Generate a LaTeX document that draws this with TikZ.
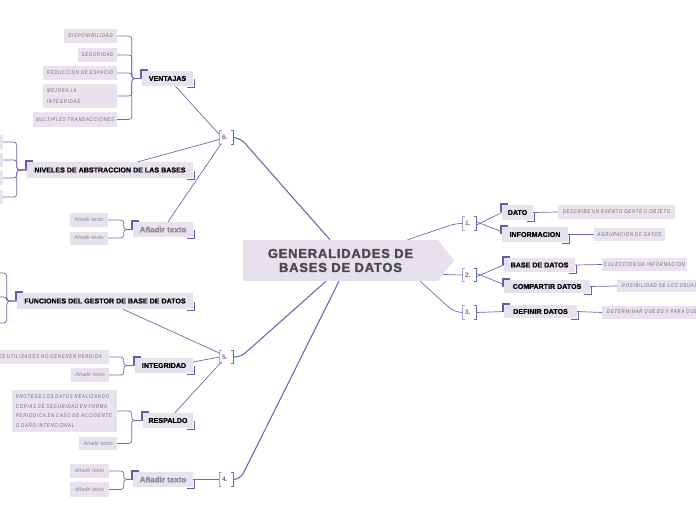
\documentclass[tikz,border=0pt]{standalone}
\usepackage{fontspec}
\setmainfont{Liberation Sans}
\newfontfamily\leaffont{Liberation Sans}[LetterSpace=14, FakeStretch=0.78]
\newfontfamily\hubfont{Liberation Sans}[LetterSpace=6, BoldFeatures={FakeBold=2}]
\newfontfamily\topicfont{Liberation Sans}[BoldFeatures={FakeBold=0.8}]
\usetikzlibrary{backgrounds}
\definecolor{boxfill}{HTML}{E8E2EE}
\definecolor{hubfill}{HTML}{E6E0EC}
\definecolor{linecol}{HTML}{6B6BAE}
\definecolor{lightline}{HTML}{A3A3D0}
\definecolor{cornercol}{HTML}{5F5FA6}
\definecolor{numcol}{HTML}{9A4F9A}
\definecolor{leaftext}{HTML}{6A6A6A}
\definecolor{addtext}{HTML}{8A8A8A}
\definecolor{hubtext}{HTML}{4A4A4A}
\newcommand\tcorners[1]{%
  \draw[corner] ([shift={(-1pt,-7pt)}]#1.north west) -- ([shift={(-1pt,1pt)}]#1.north west) -- ([shift={(6pt,1pt)}]#1.north west);
  \draw[corner] ([shift={(1pt,7pt)}]#1.south east) -- ([shift={(1pt,-1pt)}]#1.south east) -- ([shift={(-6pt,-1pt)}]#1.south east);}
\newcommand\nbrackets[1]{%
  \draw[draw=lightline, line width=0.9pt] ([xshift=2.5pt]#1.north west) -- (#1.north west) -- (#1.south west) -- ([xshift=2.5pt]#1.south west);
  \draw[draw=linecol, line width=0.9pt] ([xshift=-2.5pt]#1.north east) -- (#1.north east) -- (#1.south east) -- ([xshift=-2.5pt]#1.south east);}
\begin{document}
\begin{tikzpicture}[x=1pt,y=-1pt,
  hub/.style={fill=hubfill, minimum width=195, minimum height=41, inner sep=0pt, align=center,
    font=\hubfont\bfseries\fontsize{13}{14}\selectfont, text=hubtext},
  leaf/.style={fill=boxfill, inner sep=0pt, font=\leaffont\itshape\fontsize{5.5}{6.5}\selectfont, text=leaftext},
  addleaf/.style={fill=boxfill, inner sep=0pt, font=\itshape\fontsize{5.5}{6.5}\selectfont, text=addtext},
  topic/.style={fill=boxfill, inner sep=0pt, font=\topicfont\bfseries\fontsize{7.1}{8}\selectfont, text=black},
  addtopic/.style={fill=boxfill, inner sep=0pt, font=\topicfont\bfseries\fontsize{8}{9}\selectfont, text=addtext},
  num/.style={inner sep=0pt, minimum width=14, minimum height=13, text width=9pt, align=left,
    font=\bfseries\fontsize{6.5}{7}\selectfont, text=numcol},
  conn/.style={draw=linecol, line width=0.7pt},
  mainconn/.style={draw=linecol, line width=1.1pt},
  corner/.style={draw=cornercol, line width=1.4pt}]
\useasboundingbox (0,0) rectangle (696,520);

% central topic
\node[hub] (hub) at (340.5,260.5) {GENERALIDADES DE\\BASES DE DATOS};
\fill[hubfill] ([xshift=-0.5pt]hub.north east) -- ([xshift=16pt]hub.east) -- ([xshift=-0.5pt]hub.south east) -- cycle;

% numbered branches
\node[num] (n1) at (469.5,223.5) {1.};
\node[num] (n2) at (469.5,275) {2.};
\node[num] (n3) at (469.5,312.5) {3.};
\node[num] (n6) at (226.5,137.5) {6.};
\node[num] (n5) at (226.5,357) {5.};
\node[num] (n4) at (226.5,479.5) {4.};
\nbrackets{n1}\nbrackets{n2}\nbrackets{n3}\nbrackets{n6}\nbrackets{n5}\nbrackets{n4}

% main topics
\node[topic, minimum width=31, minimum height=15] (dato) at (517.5,212.5) {DATO};
\node[topic, minimum width=66, minimum height=15] (info) at (535,234.5) {INFORMACION};
\node[topic, minimum width=71, minimum height=14] (base) at (539.5,265) {BASE DE DATOS};
\node[topic, minimum width=86, minimum height=13] (comp) at (547,286.5) {COMPARTIR DATOS};
\node[topic, minimum width=73, minimum height=13] (defi) at (540.5,311.5) {DEFINIR DATOS};
\node[topic, minimum width=51, minimum height=15] (vent) at (167.5,78.5) {VENTAJAS};
\node[topic, minimum width=166, minimum height=16] (nive) at (110,170) {NIVELES DE ABSTRACCION DE LAS BASES};
\node[addtopic, minimum width=60, minimum height=15] (add6) at (163,229.5) {Añadir texto};
\node[topic, minimum width=176, minimum height=16] (func) at (105,301) {FUNCIONES DEL GESTOR DE BASE DE DATOS};
\node[topic, minimum width=58, minimum height=15] (integ) at (164,365.5) {INTEGRIDAD};
\node[topic, minimum width=50, minimum height=15] (resp) at (168,420.5) {RESPALDO};
\node[addtopic, minimum width=60, minimum height=15] (add4) at (163,479.5) {Añadir texto};
\tcorners{dato}\tcorners{info}\tcorners{base}\tcorners{comp}\tcorners{defi}
\tcorners{vent}\tcorners{nive}\tcorners{add6}\tcorners{func}\tcorners{integ}\tcorners{resp}\tcorners{add4}

% right leaves
\node[leaf, minimum width=117, minimum height=14] (desc) at (616.5,212) {DESCRIBE UN EVENTO GENTE U OBJETO};
\node[leaf, minimum width=71, minimum height=13] (agru) at (629.5,234.5) {AGRUPACION DE DATOS};
\node[leaf, minimum width=85, minimum height=13] (cole) at (644.5,264.5) {COLECCION DE INFORMACION};
\node[leaf, anchor=west, inner xsep=5pt, minimum height=12] (posi) at (617,286) {POSIBILIDAD DE LOS USUARIOS};
\node[leaf, anchor=west, inner xsep=5pt, minimum height=13] (dete) at (602,312.5) {DETERMINAR QUE ES Y PARA QUE};

% left leaves
\node[leaf, minimum width=53, minimum height=14] (disp) at (90.5,36) {DISPONIBILIDAD};
\node[leaf, minimum width=39, minimum height=14] (segu) at (97.5,55) {SEGURIDAD};
\node[leaf, minimum width=74, minimum height=14] (redu) at (80,73) {REDUCCION DE ESPACIO};
\node[leaf, minimum width=74, minimum height=24, text width=66pt, align=left] (mejo) at (80,96) {MEJORA LA\\[4pt]INTEGRIDAD};
\node[leaf, minimum width=84, minimum height=15] (mult) at (75,119.5) {MULTIPLES TRANSACCIONES};

\node[leaf, minimum width=43, minimum height=14] (nv1) at (-18.5,142) {};
\node[leaf, minimum width=43, minimum height=14] (nv2) at (-18.5,160) {};
\node[leaf, minimum width=43, minimum height=14] (nv3) at (-18.5,178) {};
\node[leaf, minimum width=43, minimum height=14] (nv4) at (-18.5,197) {};

\node[addleaf, minimum width=38, minimum height=14] (a6a) at (89,220) {Añadir texto};
\node[addleaf, minimum width=38, minimum height=13] (a6b) at (89,238) {Añadir texto};

\node[leaf, minimum width=40, minimum height=14] (fu1) at (-21,273) {};
\node[leaf, minimum width=40, minimum height=14] (fu2) at (-21,297) {};
\node[leaf, minimum width=40, minimum height=14] (fu3) at (-21,323) {};

\node[leaf, anchor=east, inner xsep=7pt, minimum height=14] (ig1) at (109,357) {ES UTILIZADOS NO GENEREN PERDIDA};
\node[addleaf, minimum width=38, minimum height=14] (ig2) at (90,375) {Añadir texto};

\node[leaf, minimum width=105, minimum height=42, text width=97pt, align=left] (rp1) at (64.5,411)
  {PROTEGE LOS DATOS REALIZANDO\\[3.2pt]COPIAS DE SEGURIDAD EN FORMA\\[3.2pt]PERIODICA EN CASO DE ACCIDENTE\\[3.2pt]O DAÑO INTENCIONAL};
\node[addleaf, minimum width=38, minimum height=13] (rp2) at (98,443.5) {Añadir texto};

\node[addleaf, minimum width=39, minimum height=14] (a4a) at (89.5,471) {Añadir texto};
\node[addleaf, minimum width=39, minimum height=15] (a4b) at (89.5,489.5) {Añadir texto};

\begin{scope}[on background layer]
  % hub to numbers
  \draw[mainconn, rounded corners=6pt] (n6.east) -- ++(7,1) -- ([xshift=-10.5pt]hub.north);
  \draw[mainconn, rounded corners=6pt] (n5.east) -- ++(7,0) -- ([xshift=-14.5pt]hub.south);
  \draw[mainconn, rounded corners=6pt] (n4.east) -- ++(7,-1) -- ([xshift=-1.5pt]hub.south);
  \draw[conn, rounded corners=6pt] ([xshift=67pt]hub.north) -- ([xshift=-7pt]n1.west) -- (n1.west);
  \draw[conn] ([shift={(5pt,-14pt)}]hub.east) -- (n2.west);
  \draw[conn, rounded corners=8pt] ([xshift=-18pt]hub.south east) -- ([xshift=-8pt]n3.west) -- (n3.west);
  % numbers to topics
  \draw[conn] ([yshift=-1.5pt]n1.east) -- (dato.west);
  \draw[conn] ([yshift=1.5pt]n1.east) -- ([yshift=3pt]info.west);
  \draw[conn] ([yshift=-1.5pt]n2.east) -- (base.west);
  \draw[conn] ([yshift=1.5pt]n2.east) -- ([yshift=2pt]comp.west);
  \draw[conn] (n3.east) -- (defi.west);
  \draw[conn] ([yshift=3pt]n6.west) -- ([xshift=8pt]vent.south);
  \draw[conn] ([yshift=-2pt]n6.west) -- ([xshift=28pt]nive.north);
  \draw[conn] ([shift={(2pt,-6pt)}]n6.west) -- ([xshift=5pt]add6.north);
  \draw[conn] ([yshift=4pt]n5.west) -- ([xshift=18pt]func.south);
  \draw[conn] (n5.west) -- ([yshift=3.5pt]integ.east);
  \draw[conn] ([shift={(2pt,-5pt)}]n5.west) -- ([xshift=7pt]resp.north);
  \draw[conn] (n4.west) -- (add4.east);
  % topics to leaves, right
  \draw[conn] (dato.east) -- (desc.west);
  \draw[conn] (info.east) -- (agru.west);
  \draw[conn] (base.east) -- (cole.west);
  \draw[conn] (comp.east) -- (posi.west);
  \draw[conn] (defi.east) -- (dete.west);
  % topics to leaves, left (braces)
  \foreach \c in {disp,segu,redu,mejo,mult}
    \draw[conn, rounded corners=3pt] (\c.east) -| ([xshift=-10pt]vent.west) -- (vent.west);
  \foreach \c in {nv1,nv2,nv3,nv4}
    \draw[conn, rounded corners=3pt] (\c.east) -| ([xshift=-10pt]nive.west) -- (nive.west);
  \foreach \c in {a6a,a6b}
    \draw[conn, rounded corners=3pt] (\c.east) -| ([xshift=-9pt]add6.west) -- (add6.west);
  \foreach \c in {fu1,fu2,fu3}
    \draw[conn, rounded corners=3pt] (\c.east) -| ([xshift=-10pt]func.west) -- (func.west);
  \foreach \c in {ig1,ig2}
    \draw[conn, rounded corners=3pt] (\c.east) -| ([xshift=-11pt]integ.west) -- (integ.west);
  \foreach \c in {rp1,rp2}
    \draw[conn, rounded corners=3pt] (\c.east) -| ([xshift=-11pt]resp.west) -- (resp.west);
  \foreach \c in {a4a,a4b}
    \draw[conn, rounded corners=3pt] (\c.east) -| ([xshift=-9pt]add4.west) -- (add4.west);
\end{scope}
\end{tikzpicture}
\end{document}
